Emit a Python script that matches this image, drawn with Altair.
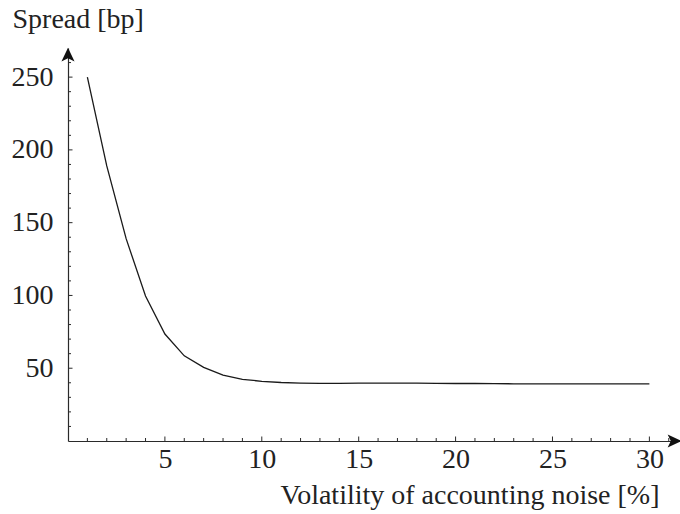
import altair as alt
import pandas as pd

# ---- data ----
noise_vol = list(range(1, 31))
spread = [250, 189, 139, 99.6, 73.5, 58.5, 50.6, 45.3, 42.4, 41.0,
          40.2, 39.8, 39.6, 39.6, 39.7, 39.8, 39.8, 39.8, 39.6, 39.5,
          39.5, 39.4, 39.3, 39.3, 39.3, 39.3, 39.3, 39.2, 39.2, 39.2]

x_major = [5, 10, 15, 20, 25, 30]
x_minor = [1, 2, 3, 4, 6, 7, 8, 9, 11, 12, 13, 14, 16, 17, 18, 19,
           21, 22, 23, 24, 26, 27, 28, 29, 31]
y_major = [50, 100, 150, 200, 250]
y_minor = [10, 20, 30, 40, 60, 70, 80, 90, 110, 120, 130, 140, 160, 170,
           180, 190, 210, 220, 230, 240, 260]

x_title = "Volatility of accounting noise [%]"
y_title = "Spread [bp]"

FONT = "Liberation Serif"
AX = "#2a2a2a"

xs = alt.Scale(domain=[0, 31.58], nice=False, zero=False)
ys = alt.Scale(domain=[0, 270], nice=False, zero=False)

df = pd.DataFrame({"x": noise_vol, "y": spread})

line = alt.Chart(df).mark_line(color="#1a1a1a", strokeWidth=1.3).encode(
    x=alt.X("x:Q", scale=xs, axis=alt.Axis(
        values=x_major, labelPadding=26, labelBaseline="alphabetic",
        title=x_title, titleX=591, titleY=62, titleAlign="right",
        titleBaseline="alphabetic", titleAngle=0)),
    y=alt.Y("y:Q", scale=ys, axis=alt.Axis(
        values=y_major, labelPadding=15, labelAlign="right", labelBaseline="middle",
        title=y_title, titleX=-56, titleY=-21, titleAlign="left",
        titleBaseline="alphabetic", titleAngle=0)),
)

def xticks(vals, length):
    d = pd.DataFrame({"x": vals})
    return alt.Chart(d).mark_rule(color=AX, strokeWidth=1, y2Offset=-length).encode(
        x=alt.X("x:Q", scale=xs),
        y=alt.YDatum(0),
        y2=alt.Y2Datum(0),
    )

def yticks(vals, length):
    d = pd.DataFrame({"y": vals})
    return alt.Chart(d).mark_rule(color=AX, strokeWidth=1, x2Offset=length).encode(
        y=alt.Y("y:Q", scale=ys),
        x=alt.XDatum(0),
        x2=alt.X2Datum(0),
    )

arrow_x = alt.Chart(pd.DataFrame({"a": [0]})).mark_point(
    shape="M1,0 L-1,-0.95 L-0.55,0 L-1,0.95 Z", filled=True, size=190,
    color="#111", opacity=1, strokeWidth=0).encode(
    x=alt.XDatum(31.3), y=alt.YDatum(0))

arrow_y = alt.Chart(pd.DataFrame({"a": [0]})).mark_point(
    shape="M0,-1 L-0.95,1 L0,0.55 L0.95,1 Z", filled=True, size=190,
    color="#111", opacity=1, strokeWidth=0).encode(
    x=alt.XDatum(0), y=alt.YDatum(265.5))

chart = alt.layer(
    line,
    xticks(x_minor, 3), xticks(x_major, 4.5),
    yticks(y_minor, 3), yticks(y_major, 4.5),
    arrow_x, arrow_y,
).properties(
    width=612, height=393, background="white",
    autosize=alt.AutoSizeParams(type="none"),
    padding={"left": 68, "top": 48, "right": 0, "bottom": 73},
).configure_view(
    stroke="transparent", strokeWidth=0
).configure_axis(
    ticks=False, tickSize=0, grid=False,
    domainColor=AX, domainWidth=1.2,
    labelFont=FONT, labelFontSize=28, labelColor="#222",
    labelFlush=False, labelOverlap=False,
    titleFont=FONT, titleFontSize=28, titleFontWeight="normal", titleColor="#222",
)

chart.save("out.html", embed_options={"renderer": "svg", "actions": False})
